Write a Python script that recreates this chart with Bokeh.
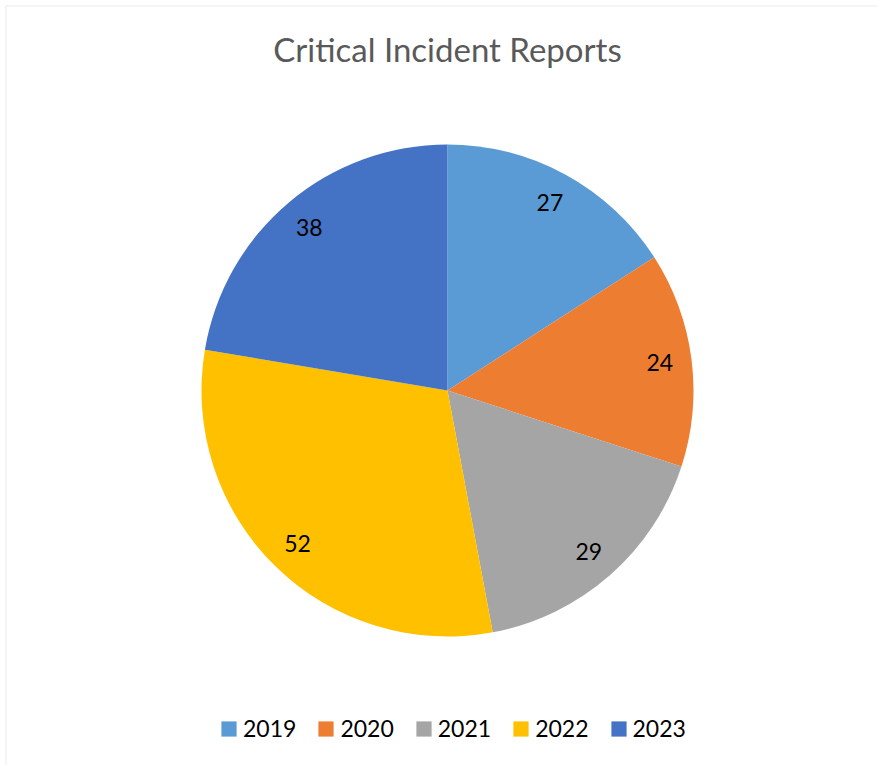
import math
from bokeh.plotting import figure
from bokeh.models import Range1d, Label, Legend, LegendItem, BoxAnnotation, ColumnDataSource
from bokeh.embed import file_html
from bokeh.resources import INLINE
from bokeh.core.properties import value

# ---- data ----
title_text = "Critical Incident Reports"
years = ["2019", "2020", "2021", "2022", "2023"]
counts = [27, 24, 29, 52, 38]
colors = ["#5B9BD5", "#ED7D31", "#A5A5A5", "#FFC000", "#4472C4"]

# ---- layout constants ----
W, H = 877, 765
CX, CY, R = 447, 375, 246
LABEL_FRAC = 0.87
FONT = "Lato"

total = sum(counts)
starts, ends, lx, ly = [], [], [], []
cum = 0
for c in counts:
    a0 = math.pi / 2 - 2 * math.pi * (cum + c) / total
    a1 = math.pi / 2 - 2 * math.pi * cum / total
    mid = (a0 + a1) / 2
    starts.append(a0)
    ends.append(a1)
    lx.append(CX + LABEL_FRAC * R * math.cos(mid))
    ly.append(CY + LABEL_FRAC * R * math.sin(mid))
    cum += c

src = ColumnDataSource(dict(year=years, count=counts, color=colors,
                            start=starts, end=ends, lx=lx, ly=ly,
                            txt=[str(c) for c in counts]))

p = figure(width=W, height=H, x_range=Range1d(0, W), y_range=Range1d(0, H),
           output_backend="svg", toolbar_location=None, min_border=0)
p.axis.visible = False
p.grid.visible = False
p.outline_line_color = None
p.background_fill_color = "white"
p.border_fill_color = "white"

# chart border (left and top edges visible in the window)
p.add_layout(BoxAnnotation(left=5.5, right=W + 100, bottom=-100, top=H - 5.5,
                           fill_alpha=0, line_color="#D9D9D9", line_width=2))

r = p.wedge(x=CX, y=CY, radius=R, start_angle="start", end_angle="end",
            direction="anticlock", fill_color="color", line_color=None, source=src)

p.text(x="lx", y="ly", text="txt", source=src, text_align="center",
       text_baseline="middle", text_font=value(FONT), text_font_size="23px",
       text_color="#000000")

p.add_layout(Label(x=CX, y=H - 48, text=title_text, text_align="center",
                   text_baseline="middle", text_font=FONT, text_font_size="33px",
                   text_color="#595959"))

legend = Legend(items=[LegendItem(label=y, renderers=[r], index=i) for i, y in enumerate(years)],
                orientation="horizontal", location=(219, 23),
                glyph_width=19, glyph_height=19, label_standoff=5, spacing=20,
                padding=0, margin=0, border_line_color=None, background_fill_alpha=0,
                label_text_font=FONT, label_text_font_size="23px", label_text_color="#000000")
p.add_layout(legend, "center")

open("out.html", "w").write(file_html(p, INLINE))
